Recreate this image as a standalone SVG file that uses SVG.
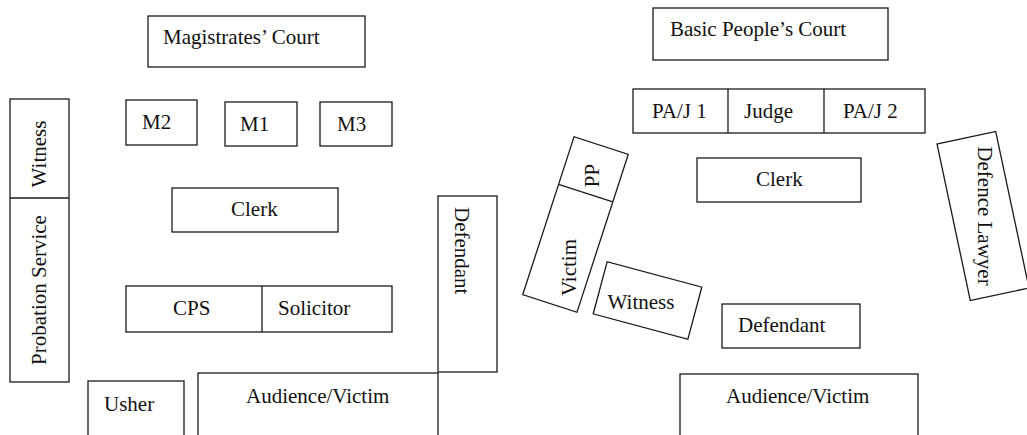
<svg xmlns="http://www.w3.org/2000/svg" width="1027" height="435" viewBox="0 0 1027 435">
  <style>
    .box { fill: #ffffff; stroke: #1a1a1a; stroke-width: 1.3; }
    .div { stroke: #1a1a1a; stroke-width: 1.3; fill: none; }
    .lbl { font-family: "Liberation Serif", "Times New Roman", serif; font-size: 21px; fill: #111111; }
    .mid { text-anchor: middle; }
  </style>
  <rect width="1027" height="435" fill="#ffffff"/>

  <!-- Magistrates' Court layout (left) -->
  <g id="mc-title">
    <rect class="box" x="148" y="16" width="217" height="51"/>
    <text class="lbl" x="163" y="44">Magistrates’ Court</text>
  </g>
  <g id="mc-m2">
    <rect class="box" x="126" y="100" width="71" height="45"/>
    <text class="lbl" x="142" y="129">M2</text>
  </g>
  <g id="mc-m1">
    <rect class="box" x="225" y="102" width="72" height="44"/>
    <text class="lbl" x="240" y="131">M1</text>
  </g>
  <g id="mc-m3">
    <rect class="box" x="320" y="102" width="72" height="44"/>
    <text class="lbl" x="337" y="131">M3</text>
  </g>
  <g id="mc-witness-probation">
    <rect class="box" x="10" y="99" width="59" height="283"/>
    <line class="div" x1="10" y1="198" x2="69" y2="198"/>
    <text class="lbl mid" transform="translate(46,154) rotate(-90)">Witness</text>
    <text class="lbl mid" transform="translate(46,290) rotate(-90)">Probation Service</text>
  </g>
  <g id="mc-clerk">
    <rect class="box" x="172" y="188" width="166" height="44"/>
    <text class="lbl" x="231" y="216">Clerk</text>
  </g>
  <g id="mc-cps-solicitor">
    <rect class="box" x="126" y="286" width="266" height="46"/>
    <line class="div" x1="262" y1="286" x2="262" y2="332"/>
    <text class="lbl" x="173" y="315">CPS</text>
    <text class="lbl" x="278" y="315">Solicitor</text>
  </g>
  <g id="mc-defendant">
    <rect class="box" x="438" y="196" width="59" height="176"/>
    <text class="lbl" transform="translate(455,207) rotate(90)">Defendant</text>
  </g>
  <g id="mc-audience">
    <rect class="box" x="198" y="373" width="240" height="70"/>
    <text class="lbl" x="246" y="403">Audience/Victim</text>
  </g>
  <g id="mc-usher">
    <rect class="box" x="88" y="381" width="96" height="62"/>
    <text class="lbl" x="104" y="411">Usher</text>
  </g>

  <!-- Basic People's Court layout (right) -->
  <g id="bpc-title">
    <rect class="box" x="653" y="8" width="235" height="52"/>
    <text class="lbl" x="670" y="36">Basic People’s Court</text>
  </g>
  <g id="bpc-bench">
    <rect class="box" x="633" y="89" width="292" height="44"/>
    <line class="div" x1="728" y1="89" x2="728" y2="133"/>
    <line class="div" x1="824" y1="89" x2="824" y2="133"/>
    <text class="lbl" x="652" y="118">PA/J 1</text>
    <text class="lbl" x="744" y="118">Judge</text>
    <text class="lbl" x="843" y="118">PA/J 2</text>
  </g>
  <g id="bpc-clerk">
    <rect class="box" x="697" y="158" width="164" height="44"/>
    <text class="lbl" x="756" y="186">Clerk</text>
  </g>
  <g id="bpc-pp-victim">
    <g transform="translate(575.5,224.5) rotate(18)">
      <rect class="box" x="-28.5" y="-83" width="57" height="166"/>
      <line class="div" x1="-28.5" y1="-33" x2="28.5" y2="-33"/>
    </g>
    <text class="lbl mid" transform="translate(599,175.5) rotate(-90)">PP</text>
    <text class="lbl mid" transform="translate(576,267.5) rotate(-90)">Victim</text>
  </g>
  <g id="bpc-witness">
    <rect class="box" x="-49" y="-27" width="98" height="54" transform="translate(647.5,300.5) rotate(15)"/>
    <text class="lbl mid" x="641" y="309">Witness</text>
  </g>
  <g id="bpc-defence-lawyer">
    <rect class="box" x="-30" y="-80" width="60" height="160" transform="translate(983,216) rotate(-12)"/>
    <text class="lbl mid" transform="translate(978,216) rotate(90)">Defence Lawyer</text>
  </g>
  <g id="bpc-defendant">
    <rect class="box" x="722" y="304" width="138" height="44"/>
    <text class="lbl" x="738" y="332">Defendant</text>
  </g>
  <g id="bpc-audience">
    <rect class="box" x="680" y="374" width="238" height="70"/>
    <text class="lbl" x="726" y="403">Audience/Victim</text>
  </g>

  <!-- no connectors in this seating plan -->
  <g id="connectors"/>
</svg>
